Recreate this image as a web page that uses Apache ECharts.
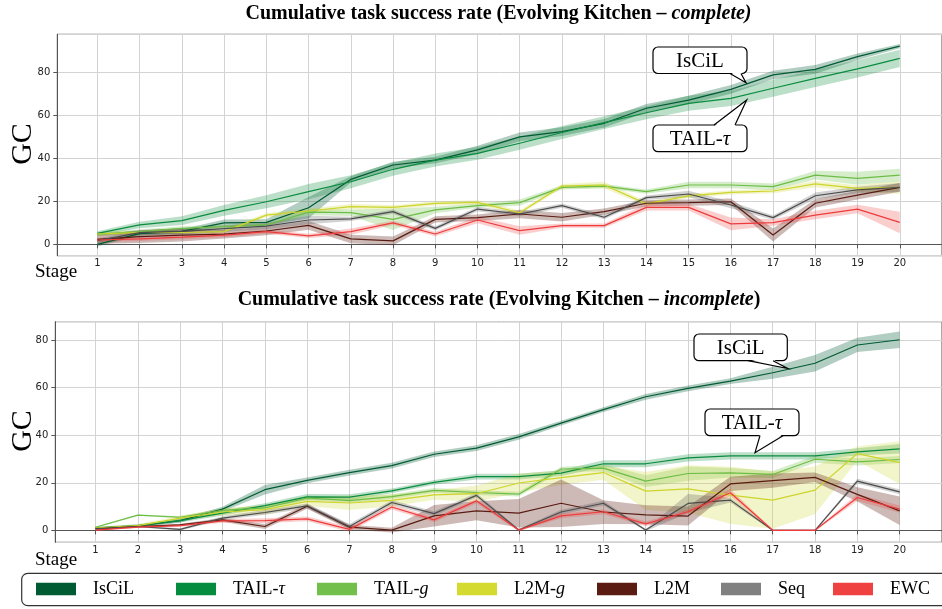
<!DOCTYPE html>
<html>
<head>
<meta charset="utf-8">
<script src="https://cdn.jsdelivr.net/npm/echarts@6/dist/echarts.min.js"></script>
<style>
html, body { margin: 0; padding: 0; background: #fff; }
#chart { width: 942px; height: 609px; }
</style>
</head>
<body>
<div id="chart"></div>
<script>
// stages on the x axis
const stages = [1, 2, 3, 4, 5, 6, 7, 8, 9, 10, 11, 12, 13, 14, 15, 16, 17, 18, 19, 20];
const methods = ["IsCiL", "TAIL-τ", "TAIL-g", "L2M-g", "L2M", "Seq", "EWC"];
const lineColors = ["#005a32", "#0a8c3e", "#6cbd45", "#cdd52a", "#5a1c12", "#4c4c4c", "#ee3b3b"];
const legendColors = ["#005a32", "#068c3e", "#72c04b", "#d4da2f", "#5a1c12", "#808080", "#f04141"];
const bandAlpha = [0.3, 0.28, 0.28, 0.25, 0.3, 0.25, 0.25];

// complete
const iscilC = [0, 5, 6, 10, 10.2, 17, 30.2, 36.9, 39.2, 43.9, 50, 52.4, 56.3, 63.3, 67.1, 72.1, 78.8, 81.4, 87.3, 92.2];
const tailTauC = [5.1, 9, 11, 15.8, 19.8, 24.5, 29.1, 34.9, 39.2, 42.3, 47, 52, 56.6, 61.2, 65.6, 67.9, 72.6, 77.2, 81.6, 86.5];
const tailGC = [4.7, 5.9, 7.4, 8.2, 9, 15, 14.7, 11.6, 16, 18, 19.4, 26.5, 27.1, 24.5, 27.6, 27.6, 26.8, 32.2, 30.7, 32.2];
const l2mGC = [4.8, 5.5, 5.5, 5.9, 13.6, 15.5, 17.5, 17.2, 19, 19.5, 14.7, 27.1, 27.6, 18.8, 22.5, 24.2, 24.8, 28.1, 26, 26.5];
const l2mC = [2.3, 3.6, 4.3, 4.7, 6.2, 8.8, 2.5, 1.6, 11.6, 12.4, 14.1, 12.6, 15.2, 19.1, 19.4, 19.8, 4.3, 19.1, 22.9, 26.5];
const seqC = [1.7, 5.4, 6, 7.3, 8.5, 11.3, 11.8, 15.2, 7.4, 16.4, 14.1, 18, 12.6, 21.7, 23.4, 18.3, 12.4, 22.6, 25.3, 26.5];
const ewcC = [2, 2.5, 3.3, 4.3, 5.9, 3.9, 5.9, 10, 4.8, 11.3, 6.4, 8.7, 8.7, 17.2, 17.2, 9.5, 10.1, 13.6, 16.4, 10.2];

const iscilCsd = [1, 1, 1, 1.5, 1.5, 5, 1.5, 1.5, 1.5, 2, 2, 2, 2, 2, 2, 2, 2, 2, 1.5, 1];
const tailTauCsd = [1, 1.5, 2, 2.5, 3, 3.5, 3, 3, 3, 3, 3, 3, 3, 3, 3.5, 3.5, 4, 4, 4, 4];
const tailGCsd = [1, 1, 1, 1, 1, 1.5, 1.5, 5, 1.5, 1, 1.5, 1, 1, 1, 1.5, 1.5, 1.5, 2, 3, 3];
const l2mGCsd = [0.8, 0.8, 0.8, 0.8, 1, 1, 1.2, 1, 1, 1, 1, 1, 1.5, 1, 1, 1, 1, 1.5, 1.5, 3];
const l2mCsd = [2, 3, 3, 2, 2, 2, 2, 2, 1.5, 1.5, 2, 2, 1.5, 1.5, 1.5, 1.5, 3, 2, 2, 2];
const seqCsd = [1, 1, 1.5, 1.5, 1.5, 2, 1, 1, 1, 1, 1, 1, 1, 1, 1.5, 1.5, 1, 1.5, 1.5, 2];
const ewcCsd = [1, 1, 1, 1, 1, 1, 1.5, 1, 1, 1.5, 2, 1, 1, 1.5, 1.5, 3, 1.5, 2, 2, 5];

// incomplete
const iscilI = [0.9, 1.8, 4.1, 8.9, 17.1, 21, 24.3, 27.2, 32, 34.6, 39.3, 45.1, 50.8, 56.2, 59.7, 62.8, 66.3, 70.3, 78, 80.2];
const tailTauI = [0.9, 2, 4.1, 7.2, 10.4, 14.1, 14, 16.6, 20.2, 22.6, 22.6, 24.1, 28, 28, 30.5, 31.3, 31.3, 31.3, 33, 34.3];
const tailGI = [1.3, 6.4, 5.5, 8.4, 9.4, 13.6, 12.5, 14.2, 16.8, 15.9, 15.2, 25.8, 26.2, 20.7, 23.9, 24.2, 23.5, 29.9, 28.8, 29.8];
const l2mGI = [0.9, 2, 5.1, 7.7, 8.7, 12.2, 11.5, 12.6, 14.9, 15.4, 19.9, 22.2, 24.3, 16.5, 17.4, 14.8, 12.7, 16.9, 32.3, 28.5];
const l2mI = [0.6, 1.6, 2.3, 4.4, 1.6, 10.1, 1.3, 0.1, 6.1, 8.2, 7.2, 11.4, 7.7, 6.5, 6, 19.5, 20.9, 22.3, 15.1, 8.2];
const seqI = [0.6, 1.6, 0.4, 5.1, 7.5, 10.3, 1.6, 11.7, 7, 14.7, 0.1, 7.7, 11.4, 0.1, 11.3, 12.7, 0, 0, 20.7, 16.2];
const ewcI = [0.1, 1.3, 2, 4, 4.1, 4.8, 0.4, 9.8, 4.4, 12.4, 0.1, 6.1, 7.8, 2.7, 7.8, 15.8, 0, 0, 13.8, 8.9];

const iscilIsd = [0.5, 0.5, 0.8, 1, 2, 1.2, 1.2, 1.2, 1.2, 1.2, 1.2, 1, 1, 1.2, 1.2, 1.2, 2.5, 3.5, 3, 3.5];
const tailTauIsd = [0.5, 0.5, 0.8, 1, 1, 1.2, 1.2, 1, 1, 1.2, 1.2, 1.2, 1.5, 1.5, 1.5, 1.5, 1.5, 1.5, 1.5, 2];
const tailGIsd = [0.3, 0.3, 0.5, 0.8, 0.8, 1, 1, 1, 1, 1, 1, 1, 1.5, 2.5, 3, 2, 1.5, 1.5, 1.5, 1.5];
const l2mGIsd = [0.5, 0.5, 1, 1.5, 2, 2, 3, 2.5, 2, 3.5, 4, 3, 3, 8, 10, 12, 12, 10, 3, 9];
const l2mIsd = [0.3, 0.3, 0.5, 0.8, 1, 1, 1, 1, 4.5, 4, 6, 10, 5, 4, 4, 3, 3, 2, 3, 6];
const seqIsd = [0.3, 0.3, 0.5, 0.8, 1, 1, 1, 1, 1, 1, 0.5, 1, 1, 0.5, 4, 1, 0.3, 0.3, 1, 1];
const ewcIsd = [0.3, 0.3, 0.5, 0.8, 1, 1, 1, 1, 1, 1, 0.5, 1, 1, 1, 1, 1.5, 0.3, 0.3, 1.5, 1.5];

const completeMeans = [iscilC, tailTauC, tailGC, l2mGC, l2mC, seqC, ewcC];
const completeSds = [iscilCsd, tailTauCsd, tailGCsd, l2mGCsd, l2mCsd, seqCsd, ewcCsd];
const incompleteMeans = [iscilI, tailTauI, tailGI, l2mGI, l2mI, seqI, ewcI];
const incompleteSds = [iscilIsd, tailTauIsd, tailGIsd, l2mGIsd, l2mIsd, seqIsd, ewcIsd];

const serif = "Liberation Serif";

// shaded band: one polygon drawn at the first item, from all items of the series
function bandRender(color, alpha) {
	return function (params, api) {
		if (params.dataIndexInside !== 0) return null;
		const n = params.dataInsideLength;
		const upper = [];
		const lower = [];
		for (let j = 0; j < n; j++) {
			const x = api.value(0, j);
			upper.push(api.coord([x, api.value(2, j)]));
			lower.push(api.coord([x, api.value(1, j)]));
		}
		return {
			type: "polygon",
			shape: { points: upper.concat(lower.reverse()) },
			style: { fill: color, opacity: alpha }
		};
	};
}

function buildSeries(means, sds, gi) {
	const bands = [];
	const lines = [];
	means.forEach((m, k) => {
		bands.push({
			type: "custom", xAxisIndex: gi, yAxisIndex: gi, silent: true, z: 1, clip: true,
			encode: { x: 0, y: [1, 2] },
			data: stages.map((s, i) => [s, m[i] - sds[k][i], m[i] + sds[k][i]]),
			renderItem: bandRender(lineColors[k], bandAlpha[k])
		});
		lines.push({
			name: methods[k], type: "line", xAxisIndex: gi, yAxisIndex: gi,
			symbol: "none", z: 3,
			lineStyle: { color: lineColors[k], width: 1.2 },
			itemStyle: { color: lineColors[k] },
			data: stages.map((s, i) => [s, m[i]])
		});
	});
	return bands.concat(lines);
}

const tickFont = { fontFamily: "DejaVu Sans", fontSize: 10, color: "#222" };

function xAxis(gi) {
	return {
		type: "value", gridIndex: gi, min: 0.05, max: 21, minInterval: 1, maxInterval: 1,
		axisLine: { show: true, lineStyle: { color: "#555" } },
		axisTick: { show: true, length: 4, lineStyle: { color: "#555" } },
		axisLabel: Object.assign({ margin: 3, showMinLabel: false, showMaxLabel: false,
			formatter: v => (Number.isInteger(v) && v >= 1 && v <= 20 ? String(v) : "") }, tickFont),
		splitLine: { show: true, lineStyle: { color: "#d3d3d3" } }
	};
}

function yAxis(gi, min, max) {
	return {
		type: "value", gridIndex: gi, min: min, max: max, minInterval: 20, maxInterval: 20,
		axisLine: { show: true, lineStyle: { color: "#555" } },
		axisTick: { show: true, length: 4, lineStyle: { color: "#555" } },
		axisLabel: Object.assign({ margin: 7, showMinLabel: false, showMaxLabel: false,
			formatter: v => (v % 20 === 0 ? String(v) : "") }, tickFont),
		splitLine: { show: true, lineStyle: { color: "#d3d3d3" } }
	};
}

// legend entries, one legend each so they sit where the original puts them
const legendLefts = [36, 176, 317, 457, 597, 721, 833];
const legendLabels = {
	"IsCiL": "IsCiL", "TAIL-τ": "TAIL-{i|τ}", "TAIL-g": "TAIL-{i|g}", "L2M-g": "L2M-{i|g}",
	"L2M": "L2M", "Seq": "Seq", "EWC": "EWC"
};
const legends = methods.map((name, k) => ({
	left: legendLefts[k], top: 580, padding: 0, selectedMode: false,
	icon: "rect", itemWidth: 40, itemHeight: 12.4,
	data: [{ name: name, itemStyle: { color: legendColors[k] } }],
	formatter: n => legendLabels[n],
	textStyle: {
		fontFamily: serif, fontSize: 18, color: "#000", padding: [0, 0, 0, 12],
		rich: { i: { fontFamily: serif, fontSize: 18, fontStyle: "italic", color: "#000" } }
	}
}));

function callout(box, base, tip, label) {
	const els = [];
	els.push({ type: "rect", z: 100, shape: { x: box[0], y: box[1], width: box[2], height: box[3], r: 5 },
		style: { fill: "#fff", stroke: "#000", lineWidth: 1.2 } });
	const inward = tip[1] > box[1] ? -1.5 : 1.5;
	els.push({ type: "polygon", z: 101, shape: { points: [[base[0], base[2] + inward], [base[1], base[2] + inward], tip] },
		style: { fill: "#fff", stroke: null } });
	els.push({ type: "polyline", z: 102, shape: { points: [[base[0], base[2]], tip, [base[1], base[2]]] },
		style: { fill: null, stroke: "#000", lineWidth: 1.2 } });
	els.push({ type: "text", z: 103, x: box[0] + box[2] / 2, y: box[1] + box[3] / 2 + 1,
		style: { text: label, align: "center", verticalAlign: "middle", fontFamily: serif, fontSize: 21, fill: "#000",
			rich: { i: { fontFamily: serif, fontSize: 21, fontStyle: "italic", fill: "#000" } } } });
	return els;
}

const titleRich = {
	b: { fontFamily: serif, fontSize: 20, fontWeight: "bold", fill: "#000" },
	bi: { fontFamily: serif, fontSize: 20, fontWeight: "bold", fontStyle: "italic", fill: "#000" }
};

const graphics = [
	{ type: "text", x: 498.5, y: 14, style: { text: "{b|Cumulative task success rate (Evolving Kitchen – }{bi|complete)}",
		align: "center", verticalAlign: "middle", rich: titleRich } },
	{ type: "text", x: 499, y: 300, style: { text: "{b|Cumulative task success rate (Evolving Kitchen – }{bi|incomplete}{b|)}",
		align: "center", verticalAlign: "middle", rich: titleRich } },
	{ type: "text", x: 23, y: 144, rotation: Math.PI / 2, style: { text: "GC", fontFamily: serif, fontSize: 30,
		fill: "#000", align: "center", verticalAlign: "middle" } },
	{ type: "text", x: 23, y: 431, rotation: Math.PI / 2, style: { text: "GC", fontFamily: serif, fontSize: 30,
		fill: "#000", align: "center", verticalAlign: "middle" } },
	{ type: "text", x: 35, y: 272, style: { text: "Stage", fontFamily: serif, fontSize: 19, fill: "#000",
		align: "left", verticalAlign: "middle" } },
	{ type: "text", x: 35, y: 560, style: { text: "Stage", fontFamily: serif, fontSize: 19, fill: "#000",
		align: "left", verticalAlign: "middle" } },
	{ type: "rect", shape: { x: 21.7, y: 573.3, width: 935, height: 32.4, r: 6 },
		style: { fill: "none", stroke: "#333", lineWidth: 1.2 } }
].concat(
	callout([653, 47, 94, 26.5], [730, 741, 73.5], [746, 82.7], "IsCiL"),
	callout([653, 125, 94, 26.7], [714, 735, 125], [746.7, 100], "TAIL-{i|τ}"),
	callout([694, 334, 93.3, 26.7], [748, 773, 360.7], [787.7, 368.5], "IsCiL"),
	callout([705, 409, 94, 26.7], [760, 783, 435.7], [755, 452.7], "TAIL-{i|τ}")
);

const chart = echarts.init(document.getElementById("chart"));
chart.setOption({
	animation: false,
	backgroundColor: "#fff",
	grid: [
		{ left: 57.3, top: 34.3, width: 891.2, height: 221.4, show: true, borderColor: "#555", borderWidth: 1 },
		{ left: 55.3, top: 321.7, width: 891.2, height: 220.6, show: true, borderColor: "#555", borderWidth: 1 }
	],
	xAxis: [xAxis(0), xAxis(1)],
	yAxis: [yAxis(0, -5.3, 97.7), yAxis(1, -5.05, 87.8)],
	legend: legends,
	series: buildSeries(completeMeans, completeSds, 0).concat(buildSeries(incompleteMeans, incompleteSds, 1)),
	graphic: graphics
});
</script>
</body>
</html>
